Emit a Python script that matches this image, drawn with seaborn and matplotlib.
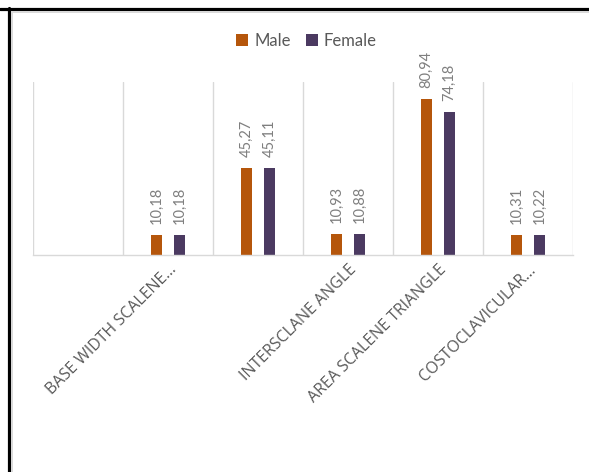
import numpy as np
import pandas as pd
import matplotlib
matplotlib.use("Agg")
import matplotlib.pyplot as plt
from matplotlib.lines import Line2D
import seaborn as sns

# ---- data ----
categories = ["", "BASE WIDTH SCALENE...", " ", "INTERSCLANE ANGLE",
              "AREA SCALENE TRIANGLE", "COSTOCLAVICULAR..."]
tick_labels = ["", "BASE WIDTH SCALENE...", "", "INTERSCLANE ANGLE",
               "AREA SCALENE TRIANGLE", "COSTOCLAVICULAR..."]
male = [np.nan, 10.18, 45.27, 10.93, 80.94, 10.31]
female = [np.nan, 10.18, 45.11, 10.88, 74.18, 10.22]
series = ["Male", "Female"]
colors = {"Male": "#B5560B", "Female": "#4B3A61"}

df = pd.DataFrame({
    "category": categories * 2,
    "value": male + female,
    "sex": ["Male"] * len(categories) + ["Female"] * len(categories),
})

sns.set_style("white")
plt.rcParams["font.family"] = ["Lato", "DejaVu Sans"]

W, H = 589, 472
fig = plt.figure(figsize=(W / 100, H / 100), dpi=100)
ax = fig.add_axes([33 / W, 1 - 255 / H, 540 / W, 173 / H])

sns.barplot(data=df, x="category", y="value", hue="sex", order=categories,
            hue_order=series, palette=colors, width=0.51, gap=0.48,
            saturation=1, linewidth=0, ax=ax, legend=True)

for cont in ax.containers:
    ax.bar_label(cont, fmt=lambda v: f"{v:.2f}".replace(".", ","),
                 rotation=90, padding=8, color="#7F7F7F", fontsize=10.5)

ax.set_xlim(-0.5, len(categories) - 0.5)
ax.set_ylim(0, 90)
ax.set_yticks([])
ax.set_xlabel("")
ax.set_ylabel("")
for s in ["top", "left", "right"]:
    ax.spines[s].set_visible(False)
ax.spines["bottom"].set_color("#D9D9D9")
ax.spines["bottom"].set_linewidth(1)

ax.set_xticks(np.arange(len(categories)))
ax.set_xticklabels(tick_labels, rotation=45, ha="right",
                   rotation_mode="anchor", color="#595959", fontsize=11.5,
                   family=["Open Sans", "DejaVu Sans"])
ax.set_xticks(np.arange(-0.5, len(categories), 1), minor=True)
ax.grid(axis="x", which="minor", color="#D9D9D9", linewidth=1)
ax.grid(axis="x", which="major", visible=False)
ax.tick_params(axis="x", which="both", length=0, pad=5)

leg = ax.legend(loc="center", bbox_to_anchor=(0.52, 1 - 41 / H),
                bbox_transform=fig.transFigure, ncol=2, frameon=False,
                handlelength=0.75, handleheight=0.75, handletextpad=0.35,
                columnspacing=0.9, fontsize=12)
for t in leg.get_texts():
    t.set_color("#595959")

# frame lines of the screenshot
fig.add_artist(Line2D([0, 1], [1 - 9 / H] * 2, color="black", lw=2.3,
                      transform=fig.transFigure))
fig.add_artist(Line2D([9 / W] * 2, [0, 1 - 8 / H], color="black", lw=2.3,
                      transform=fig.transFigure))
fig.add_artist(Line2D([11.5 / W, 1], [1 - 11.5 / H] * 2, color="#D9D9D9",
                      lw=1.4, transform=fig.transFigure))
fig.add_artist(Line2D([11.5 / W] * 2, [0, 1 - 11.5 / H], color="#D9D9D9",
                      lw=1.4, transform=fig.transFigure))

fig.savefig("out.png", dpi=100)
